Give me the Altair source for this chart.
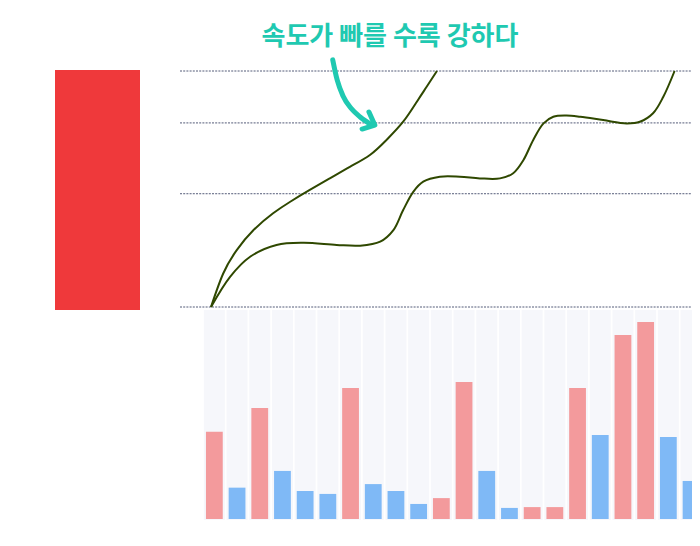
import altair as alt
import pandas as pd

# ---- data ----
# upper curve (time t, value v)
l1_t = [0, 2.5, 5.3, 8.7, 12.7, 16.2, 20.2, 24.3, 28.4, 32.5, 35.9, 39.3, 42.1, 44.1, 46.2]
l1_v = [0, 14.2, 24.2, 32.6, 39.7, 44.6, 49.6, 54.5, 59.4, 64.4, 70.8, 78.5, 87.0, 93.3, 100]
# lower curve
l2_t = [0, 3.9, 8.0, 13.4, 18.9, 25.7, 30.5, 34.6, 37.3, 39.3, 41.4, 43.4, 46.8, 50.9,
        55.0, 59.1, 61.8, 63.9, 65.9, 68.0, 70.0, 72.7, 75.5, 80.2, 85.0, 87.7, 90.4,
        92.5, 94.8]
l2_v = [0, 12.8, 21.3, 26.3, 27.2, 26.3, 26.0, 27.7, 32.6, 41.1, 48.9, 53.1, 55.2, 55.2,
        54.5, 54.5, 56.7, 62.3, 70.8, 77.8, 80.6, 81.1, 80.6, 79.2, 77.8, 78.5, 82.1,
        89.1, 100]
grid_levels = [0, 48, 78, 100]

# annotation arrow (in curve coordinates)
arrow_t = [24.9, 25.8, 27.0, 28.6, 30.5, 32.9]
arrow_v = [104.7, 96.2, 89.4, 84.3, 80.5, 77.1]
head_t = [32.3, 33.5, 30.9]
head_v = [82.6, 77.1, 75.4]
label_text = "속도가 빠를 수록 강하다"
label_t = [36.6]
label_v = [114.4]

# bars
bar_ids = [f"b{i:02d}" for i in range(1, 23)]
bar_values = [41.8, 15.0, 53.1, 23.0, 13.4, 12.0, 62.7, 16.7, 13.4, 7.2, 10.0,
              65.6, 23.0, 5.3, 5.7, 5.7, 62.7, 40.2, 88.0, 94.3, 39.2, 18.2]
bar_kind = ["up", "down", "up", "down", "down", "down", "up", "down", "down", "down", "up",
            "up", "down", "down", "up", "up", "up", "down", "up", "up", "down", "down"]

# ---- tables ----
l1_df = pd.DataFrame({"t": l1_t, "v": l1_v})
l2_df = pd.DataFrame({"t": l2_t, "v": l2_v})
grid_df = pd.DataFrame({"v": grid_levels})
arrow_df = pd.DataFrame({"t": arrow_t, "v": arrow_v, "o": range(len(arrow_t))})
head_df = pd.DataFrame({"t": head_t, "v": head_v, "o": range(len(head_t))})
label_df = pd.DataFrame({"t": label_t, "v": label_v, "txt": [label_text]})
bars_df = pd.DataFrame({"id": bar_ids, "value": bar_values, "kind": bar_kind})

xs = alt.Scale(domain=[0, 100], range=[203, 692], nice=False, zero=False)
ys = alt.Scale(domain=[0, 100], range=[299, 63], nice=False, zero=False)

grid = alt.Chart(grid_df).mark_rule(
    color="#283257", strokeWidth=0.8, strokeDash=[2, 1.2]
).encode(
    y=alt.Y("v:Q", scale=ys, axis=None),
    x=alt.value(172), x2=alt.value(684),
)

line1 = alt.Chart(l1_df).mark_line(
    color="#2f4800", strokeWidth=2, interpolate="natural"
).encode(
    x=alt.X("t:Q", scale=xs, axis=None),
    y=alt.Y("v:Q", scale=ys, axis=None),
)

line2 = alt.Chart(l2_df).mark_line(
    color="#2f4800", strokeWidth=2, interpolate="catmull-rom"
).encode(
    x=alt.X("t:Q", scale=xs, axis=None),
    y=alt.Y("v:Q", scale=ys, axis=None),
)

arrow = alt.Chart(arrow_df).mark_line(
    color="#1fc9b1", strokeWidth=5, strokeCap="round", interpolate="monotone"
).encode(
    x=alt.X("t:Q", scale=xs, axis=None),
    y=alt.Y("v:Q", scale=ys, axis=None),
    order="o:Q",
)

head = alt.Chart(head_df).mark_line(
    color="#1fc9b1", strokeWidth=5, strokeCap="round", strokeJoin="round"
).encode(
    x=alt.X("t:Q", scale=xs, axis=None),
    y=alt.Y("v:Q", scale=ys, axis=None),
    order="o:Q",
)

label = alt.Chart(label_df).mark_text(
    color="#1fc9b1", font="Noto Sans CJK KR", fontWeight="bold", fontSize=26,
    align="center", baseline="middle",
).encode(
    x=alt.X("t:Q", scale=xs, axis=None),
    y=alt.Y("v:Q", scale=ys, axis=None),
    text="txt:N",
)

box = alt.Chart(label_df).mark_rect(color="#ef393b").encode(
    x=alt.value(47), x2=alt.value(132), y=alt.value(62), y2=alt.value(302),
)

top = alt.layer(grid, line1, line2, arrow, head, label, box)

bx = alt.Scale(domain=bar_ids, range=[195, 694.4], paddingInner=0.26, paddingOuter=0.13)
by = alt.Scale(domain=[0, 100], range=[511, 302], nice=False)

stripes = alt.Chart(bars_df).mark_bar(
    color="#f6f7fb", width=alt.RelativeBandSize(1.25)
).encode(
    x=alt.X("id:N", scale=bx, axis=None, sort=bar_ids),
    y=alt.value(302), y2=alt.value(512),
)

bars = alt.Chart(bars_df).mark_bar().encode(
    x=alt.X("id:N", scale=bx, axis=None, sort=bar_ids),
    y=alt.Y("value:Q", scale=by, axis=None),
    color=alt.Color("kind:N", scale=alt.Scale(domain=["up", "down"],
                                              range=["#f39a9c", "#7fb9f6"]), legend=None),
)

bottom = alt.layer(stripes, bars)

chart = alt.layer(bottom, top).resolve_scale(
    x="independent", y="independent", color="independent"
).properties(
    width=684, height=526, padding=0,
    autosize=alt.AutoSizeParams(type="none"),
    background="white",
).configure_view(stroke=None)

chart.save("out.html", embed_options={"renderer": "svg", "actions": False})
